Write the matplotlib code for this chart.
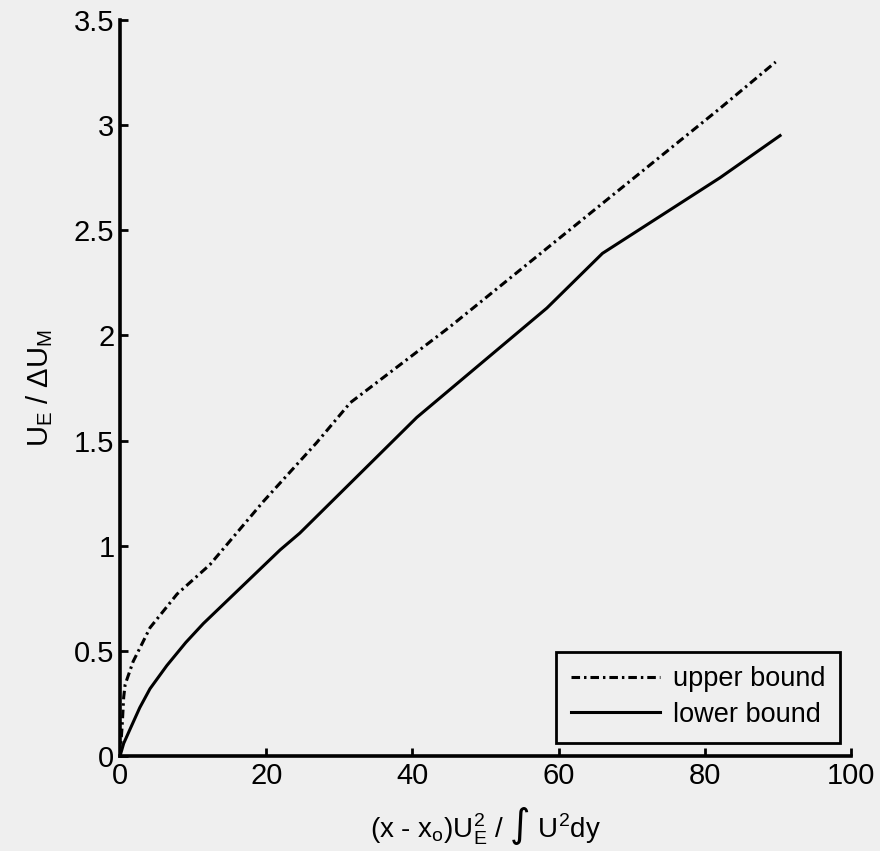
import numpy as np
from matplotlib import pyplot as plt

plt.rcParams['font.family'] = ['Liberation Sans', 'DejaVu Sans']
plt.rcParams['mathtext.default'] = 'regular'

bg = '#efefef'

# upper / lower bound of U_E / dU_M against normalised distance
x_upper = [0, 0.3, 0.5, 0.7, 1.8, 3.1, 4.1, 7.8, 12.3, 19.6, 26.9, 31.5, 45.1, 57.9, 82.1, 89.7]
y_upper = [0, 0.15, 0.28, 0.34, 0.45, 0.54, 0.61, 0.77, 0.91, 1.21, 1.49, 1.68, 2.04, 2.40, 3.08, 3.30]

x_lower = [0, 0.5, 1.4, 2.7, 4.1, 6.4, 9.0, 11.4, 21.9, 24.6, 40.6, 58.4, 66.0, 82.1, 90.3]
y_lower = [0, 0.06, 0.13, 0.23, 0.32, 0.43, 0.54, 0.63, 0.98, 1.06, 1.61, 2.13, 2.39, 2.75, 2.95]

x_ticks = [0, 20, 40, 60, 80, 100]
y_ticks = [0, 0.5, 1, 1.5, 2, 2.5, 3, 3.5]
y_ticklabels = ['0', '0.5', '1', '1.5', '2', '2.5', '3', '3.5']

fig = plt.figure(figsize=(8.8, 8.51), dpi=100, facecolor=bg)
ax = fig.add_axes([0.1364, 0.1116, 0.8306, 0.865], facecolor=bg)

ax.plot(x_upper, y_upper, color='black', lw=2.2,
        linestyle=(0, (2.8, 1.3, 0.8, 1.3)), label='upper bound')
ax.plot(x_lower, y_lower, color='black', lw=2.2, label='lower bound')

ax.set_xlim(0, 100)
ax.set_ylim(0, 3.5)
ax.set_xticks(x_ticks)
ax.set_yticks(y_ticks)
ax.set_yticklabels(y_ticklabels)

for side in ('top', 'right'):
    ax.spines[side].set_visible(False)
for side in ('left', 'bottom'):
    ax.spines[side].set_linewidth(2.6)
ax.tick_params(direction='in', length=6, width=2, labelsize=21, pad=4)

ax.set_xlabel('(x - x$_o$)U$_E^2$ / \u222b U$^2$dy', fontsize=20, labelpad=11)
ax.set_ylabel('U$_E$ / \u0394U$_M$', fontsize=21, labelpad=14)

leg = ax.legend(loc='lower right', bbox_to_anchor=(0.985, 0.018),
                borderaxespad=0, fontsize=19.5, handlelength=3.3,
                fancybox=False, frameon=True, framealpha=1,
                facecolor=bg, edgecolor='black', borderpad=0.55,
                labelspacing=0.35, handletextpad=0.45)
leg.get_frame().set_linewidth(2)

fig.savefig('out.png', dpi=100, facecolor=bg)
